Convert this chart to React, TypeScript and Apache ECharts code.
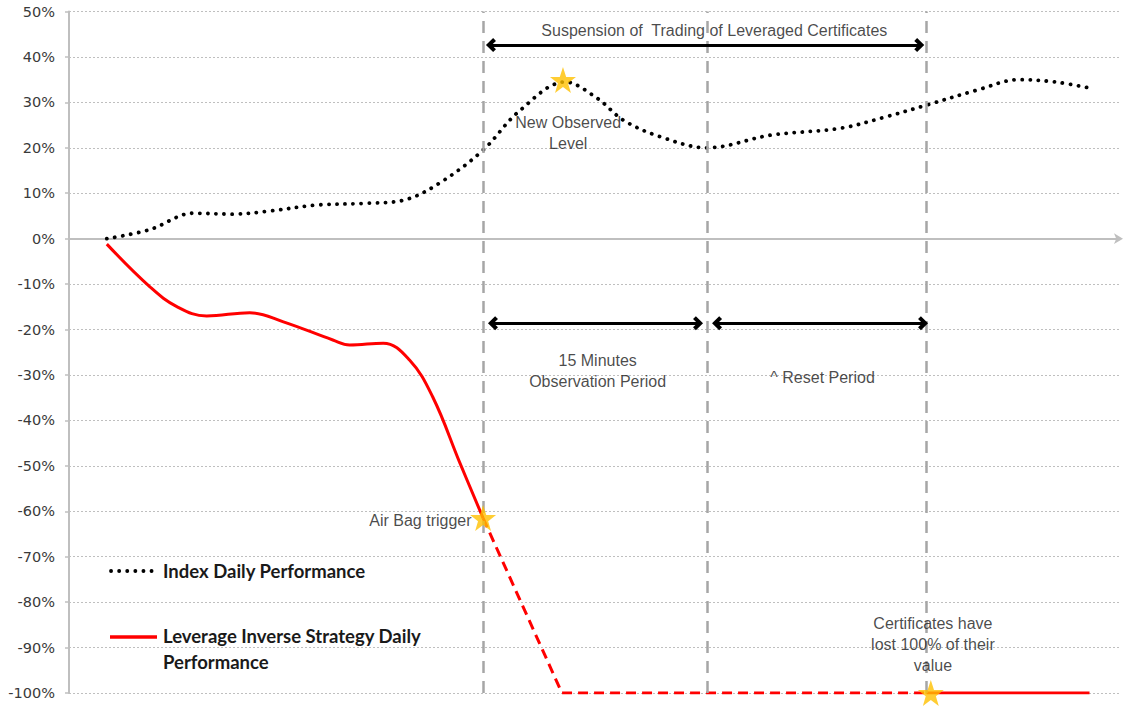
import React, { useEffect, useRef } from "react";
import * as echarts from "echarts";

// Time axis in abstract units (0..100), y values in %
const yTicks = [-100, -90, -80, -70, -60, -50, -40, -30, -20, -10, 0, 10, 20, 30, 40, 50];

const indexSeries: [number, number][] = [
  [3.6, 0], [7.7, 2], [11.8, 5.6], [15.6, 5.4], [18.8, 6], [23.6, 7.4], [28.4, 7.8],
  [31.9, 8.5], [35.3, 12.3], [39.4, 19.5], [42.8, 28], [47.2, 34.5], [50.2, 31],
  [52.8, 26], [56.3, 22.4], [60.7, 20], [66.8, 22.8], [73.4, 24.3], [77.7, 26.8],
  [81.6, 29.4], [86.4, 32.7], [90.4, 35], [93.8, 34.5], [97.0, 33.2],
];

const strategyBefore: [number, number][] = [
  [3.6, -1.2], [7.7, -10.6], [10.3, -15], [13.1, -17], [17.2, -16.3], [20.4, -18.3],
  [25.1, -22.3], [26.7, -23.4], [29.9, -23], [32.4, -26.7], [34.6, -34.8],
  [37.2, -49.4], [39.4, -61.5],
];
const strategySuspended: [number, number][] = [[39.4, -61.5], [46.9, -100], [81.6, -100]];
const strategyAfter: [number, number][] = [[81.6, -100], [97.1, -100]];

const stars: [number, number][] = [[47.0, 34.9], [39.4, -61.5], [82.0, -100]];

const periodLines = [39.4, 60.7, 81.6];

const arrows: [number, number, number][] = [
  // [xFrom, xTo, y]
  [40.15, 80.9, 42.6],
  [40.34, 59.85, -18.6],
  [61.66, 81.26, -18.6],
];

const notes: { text: string; coord: [number, number]; align: string }[] = [
  { text: "Suspension of  Trading of Leveraged Certificates", coord: [61.4, 45.9], align: "center" },
  { text: "New Observed\nLevel", coord: [47.5, 23.2], align: "center" },
  { text: "15 Minutes\nObservation Period", coord: [50.3, -29.1], align: "center" },
  { text: "^ Reset Period", coord: [71.7, -30.5], align: "center" },
  { text: "Air Bag trigger", coord: [38.3, -62.1], align: "right" },
  { text: "Certificates have\nlost 100% of their\nvalue", coord: [82.2, -89.4], align: "center" },
];

const legendItems = [
  { name: "Index Daily Performance", kind: "dotted" },
  { name: "Leverage Inverse Strategy Daily\nPerformance", kind: "solid" },
];

const STAR =
  "path://M50,0 L61.8,35.1 L98.1,35.1 L68.8,56.7 L79.4,91.3 L50,70 L20.6,91.3 L31.2,56.7 L1.9,35.1 L38.2,35.1 Z";
const CHEVRON = "path://M10,0 L20,10 L16,14 L10,8 L4,14 L0,10 Z";

export default function App() {
  const ref = useRef<HTMLDivElement>(null);
  useEffect(() => {
    if (!ref.current) return;
    const chart = echarts.init(ref.current, null, { renderer: "svg" });
    const textFont = "Liberation Sans";
    chart.setOption({
      animation: false,
      backgroundColor: "#ffffff",
      grid: { left: 69, right: 4, top: 11.5, bottom: 13, containLabel: false },
      xAxis: {
        type: "value",
        min: 0,
        max: 100,
        axisLine: {
          show: true,
          onZero: true,
          symbol: ["none", "arrow"],
          symbolSize: [8, 9],
          symbolOffset: [0, 3],
          lineStyle: { color: "#BFBFBF", width: 2 },
        },
        axisTick: { show: false },
        axisLabel: { show: false },
        splitLine: { show: false },
      },
      yAxis: {
        type: "value",
        min: -100,
        max: 50,
        interval: 10,
        axisLine: { show: true, onZero: false, lineStyle: { color: "#BFBFBF", width: 2 } },
        axisTick: { show: true, length: 4, lineStyle: { color: "#BFBFBF", width: 1.5 } },
        axisLabel: {
          color: "#3a3a3a",
          fontSize: 14.5,
          fontFamily: "DejaVu Sans",
          margin: 14,
          formatter: (v: number) => (yTicks.includes(v) ? `${v}%` : ""),
        },
        splitLine: { show: true, lineStyle: { color: "#BFBFBF", width: 1, type: [2, 2] } },
      },
      series: [
        {
          name: "Index Daily Performance",
          type: "line",
          data: indexSeries,
          smooth: 0.35,
          showSymbol: false,
          lineStyle: { color: "#000000", width: 3.8, type: [0.1, 8], cap: "round" },
          markLine: {
            silent: true,
            symbol: "none",
            label: { show: false },
            lineStyle: { color: "#A6A6A6", width: 2.5, type: [12, 8] },
            data: periodLines.map((x) => ({ xAxis: x })),
          },
          z: 3,
        },
        {
          name: "Leverage Inverse Strategy Daily Performance",
          type: "line",
          data: strategyBefore,
          smooth: 0.4,
          showSymbol: false,
          lineStyle: { color: "#FF0000", width: 3 },
          markLine: {
            silent: true,
            symbol: [CHEVRON, CHEVRON],
            symbolSize: [14, 10],
            label: { show: false },
            lineStyle: { color: "#000000", width: 3, type: "solid" },
            data: arrows.map(([a, b, y]) => [{ coord: [a, y] }, { coord: [b, y] }]),
          },
          z: 4,
        },
        {
          name: "Leverage Inverse Strategy (suspended)",
          type: "line",
          data: strategySuspended,
          showSymbol: false,
          lineStyle: { color: "#FF0000", width: 3, type: [10, 6] },
          z: 4,
        },
        {
          name: "Leverage Inverse Strategy (after)",
          type: "line",
          data: strategyAfter,
          showSymbol: false,
          lineStyle: { color: "#FF0000", width: 3 },
          z: 4,
        },
        {
          name: "Notes",
          type: "scatter",
          symbolSize: 0,
          silent: true,
          data: notes.map((n) => ({
            value: n.coord,
            label: {
              show: true,
              formatter: n.text,
              position: "inside",
              align: n.align,
              verticalAlign: "middle",
              color: "#1a1a1a",
              fontSize: 16,
              lineHeight: 21,
              fontFamily: textFont,
            },
          })),
          z: 6,
        },
        {
          name: "Stars",
          type: "scatter",
          symbol: STAR,
          symbolSize: 26,
          silent: true,
          itemStyle: { color: "#FFC000" },
          data: stars,
          z: 8,
        },
      ],
      graphic: [
        {
          type: "line",
          shape: { x1: 111, y1: 571, x2: 155, y2: 571 },
          style: { stroke: "#000", lineWidth: 3.8, lineDash: [0.1, 8], lineCap: "round" },
        },
        {
          type: "text",
          x: 163,
          y: 571,
          style: {
            text: legendItems[0].name,
            font: "bold 18.5px Lato",
            fill: "#1a1a1a",
            verticalAlign: "middle",
          },
        },
        {
          type: "line",
          shape: { x1: 110, y1: 637, x2: 157, y2: 637 },
          style: { stroke: "#FF0000", lineWidth: 3.5 },
        },
        {
          type: "text",
          x: 163,
          y: 623,
          style: {
            text: legendItems[1].name,
            font: "bold 18.5px Lato",
            fill: "#1a1a1a",
            lineHeight: 26,
            verticalAlign: "top",
          },
        },
      ],
    });
    return () => chart.dispose();
  }, []);
  return (
    <div
      ref={ref}
      style={{ position: "fixed", left: 0, top: 0, width: 1124, height: 706, background: "#fff" }}
    />
  );
}
